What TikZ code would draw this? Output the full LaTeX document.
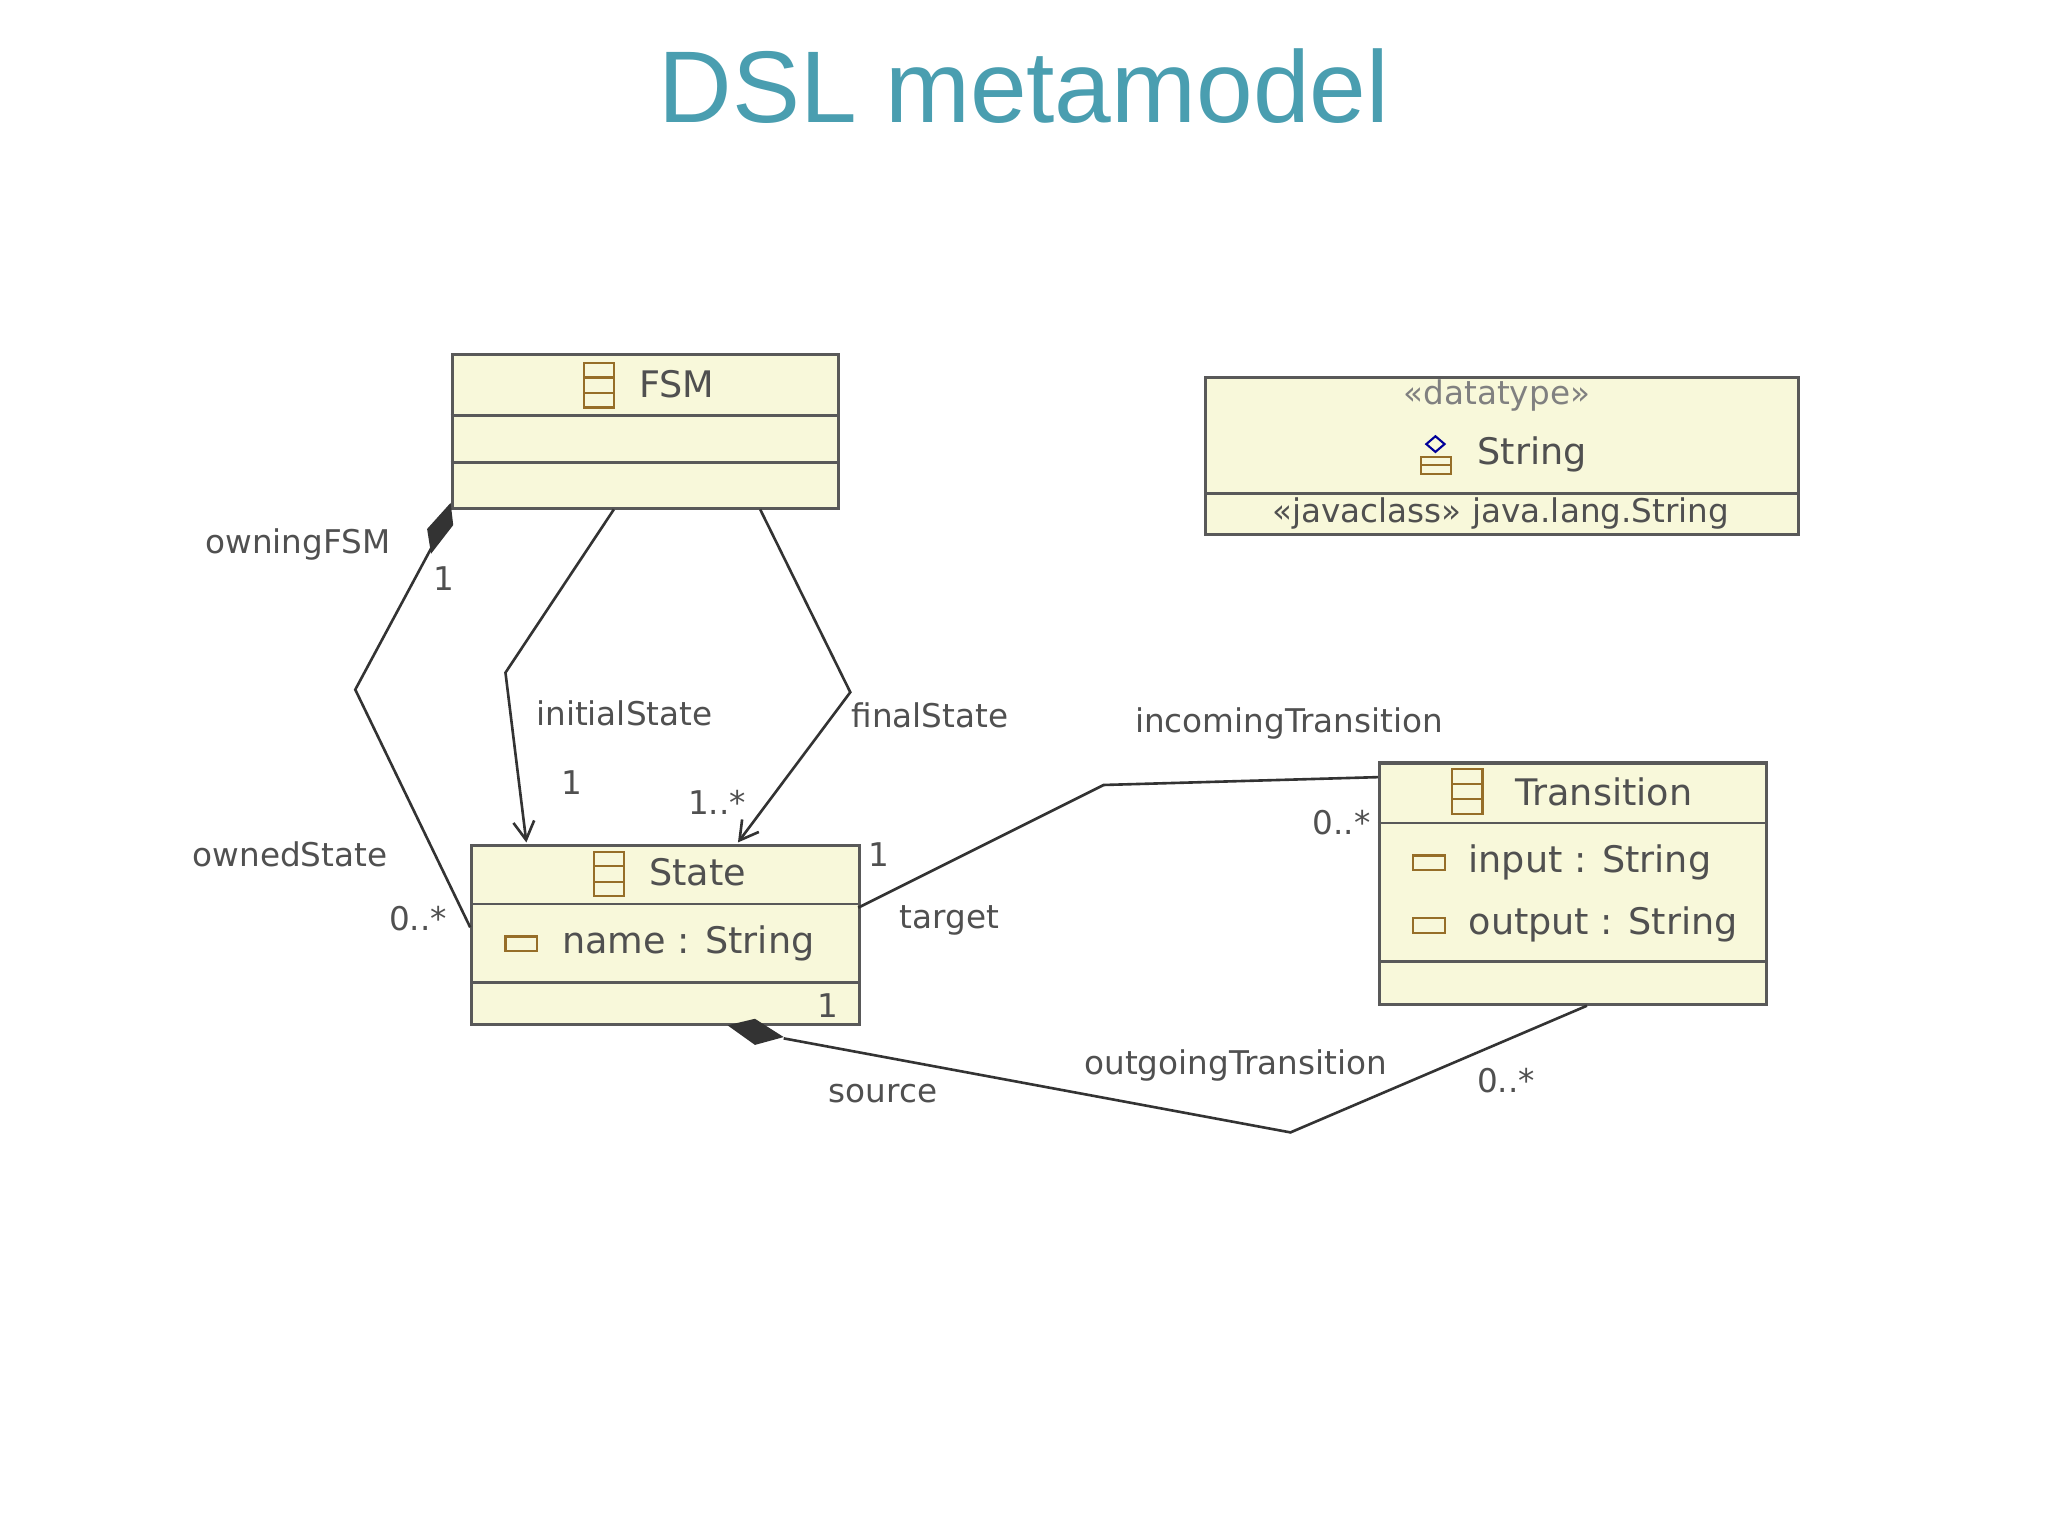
\documentclass[tikz,border=0pt]{standalone}
\usepackage{fontspec}
\setmainfont{DejaVu Sans}
\newfontfamily\titlefont{Liberation Sans}
\usetikzlibrary{arrows.meta}
\definecolor{teal1}{RGB}{74,158,176}
\definecolor{boxfill}{RGB}{248,248,218}
\definecolor{lbl}{RGB}{80,80,80}
\definecolor{icon}{RGB}{150,110,40}
\begin{document}
\begin{tikzpicture}[x=0.5pt,y=-0.5pt,
  box/.style={draw=gray!70!black,fill=boxfill,line width=1.2pt,anchor=north west,inner sep=0pt},
  conn/.style={draw=black!80,line width=1pt},
  lab/.style={text=lbl,font=\fontsize{12.5}{14}\selectfont,inner sep=0pt},
  ico/.style={draw=icon,line width=0.8pt},
  arr/.style={-{Straight Barb[length=7pt,width=8pt]}}]
\useasboundingbox (0,0) rectangle (1568,1176);
\fill[white] (0,0) rectangle (1568,1176);
\node[text=teal1,font=\titlefont\fontsize{39}{44}\selectfont] (title) at (784,66) {DSL metamodel};
% FSM
\node[box,minimum width=148pt,minimum height=59pt] (fsm) at (345,270) {};
\draw[gray!70!black,line width=1pt] (345,318) -- (641,318) (345,354) -- (641,354);
\node[lab,font=\fontsize{14}{16}\selectfont] (fsmt) at (518,294) {FSM};
\draw[ico] (447,278) rectangle (470,312) (447,289)--(470,289) (447,301)--(470,301);
% datatype
\node[box,minimum width=227pt,minimum height=60pt] (dt) at (922,288) {};
\draw[gray!70!black,line width=1pt] (922,378) -- (1376,378);
\node[lab,text=gray] (dt1) at (1146,303) {<<datatype>>};
\node[lab,font=\fontsize{14}{16}\selectfont] (dt2) at (1173,348) {String};
\draw[ico] (1088,350) rectangle (1111,363) (1088,356)--(1111,356);
\draw[blue!60!black,line width=0.8pt] (1092,340) -- (1099,334) -- (1106,340) -- (1099,346) -- cycle;
\node[lab] (dt3) at (1149,393) {<<javaclass>> java.lang.String};
% State
\node[box,minimum width=148.5pt,minimum height=68.5pt] (st) at (360,646) {};
\draw[gray!70!black,line width=1pt] (360,692) -- (657,692) (360,752) -- (657,752);
\node[lab,font=\fontsize{14}{16}\selectfont] (stt) at (534,668) {State};
\draw[ico] (455,652) rectangle (478,686) (455,663)--(478,663) (455,675)--(478,675);
\draw[ico] (387,717) rectangle (411,728);
\node[lab,font=\fontsize{14}{16}\selectfont,anchor=west] (sta) at (430,722) {name : String};
% Transition
\node[box,minimum width=148pt,minimum height=92.5pt] (tr) at (1055,583) {};
\draw[gray!70!black,line width=1pt] (1055,630) -- (1351,630) (1055,736) -- (1351,736);
\node[lab,font=\fontsize{14}{16}\selectfont] (trt) at (1228,606) {Transition};
\draw[ico] (1112,589) rectangle (1135,623) (1112,600)--(1135,600) (1112,612)--(1135,612);
\draw[ico] (1082,655) rectangle (1106,666) (1082,703) rectangle (1106,714);
\node[lab,font=\fontsize{14}{16}\selectfont,anchor=west] (tra) at (1124,660) {input : String};
\node[lab,font=\fontsize{14}{16}\selectfont,anchor=west] (trb) at (1124,708) {output : String};
% coordinates
\coordinate (c1) at (272,528);
\coordinate (c2) at (387,515);
\coordinate (c3) at (651,530);
\coordinate (c4) at (845,601);
\coordinate (c5) at (988,867);
% ownedState composition
\draw[conn] (330,420) -- (c1) -- (360,710);
\fill[black!80] (345,385) -- (347,402) -- (330,424) -- (327,405) -- cycle;
% initialState
\draw[conn,arr] (470,390) -- (c2) -- (403,645);
% finalState
\draw[conn,arr] (582,390) -- (c3) -- (565,645);
% target
\draw[conn] (657,695) -- (c4) -- (1055,595);
% source composition
\draw[conn] (600,795) -- (c5) -- (1215,770);
\fill[black!80] (557,785) -- (578,780) -- (600,794) -- (578,800) -- cycle;
% labels
\node[lab] (l1) at (228,417) {owningFSM};
\node[lab] (l2) at (340,443) {1};
\node[lab] (l3) at (222,654) {ownedState};
\node[lab] (l4) at (320,703) {0..*};
\node[lab] (l5) at (478,546) {initialState};
\node[lab] (l6) at (438,599) {1};
\node[lab] (l7) at (712,548) {finalState};
\node[lab] (l8) at (549,614) {1..*};
\node[lab] (l9) at (987,554) {incomingTransition};
\node[lab] (l10) at (1027,630) {0..*};
\node[lab] (l11) at (673,654) {1};
\node[lab] (l12) at (727,705) {target};
\node[lab] (l13) at (946,816) {outgoingTransition};
\node[lab] (l14) at (1153,827) {0..*};
\node[lab] (l15) at (676,837) {source};
\node[lab] (l16) at (634,770) {1};
\end{tikzpicture}
\end{document}
